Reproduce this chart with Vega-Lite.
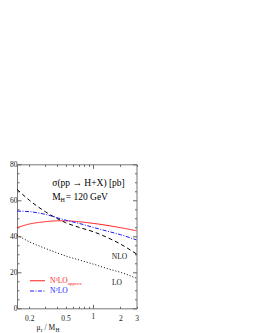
{
  "$schema": "https://vega.github.io/schema/vega-lite/v6.json",
  "width": 119.5,
  "height": 144,
  "autosize": "none",
  "padding": {"left": 17, "top": 164.3, "right": 121.5, "bottom": 24.7},
  "config": {
    "view": {"stroke": "#777", "strokeWidth": 1},
    "font": "Liberation Serif",
    "axis": {
      "domain": false,
      "grid": false,
      "tickColor": "#666",
      "tickWidth": 1,
      "labelFont": "Liberation Serif",
      "labelFontSize": 7.5,
      "labelColor": "#222",
      "labelFlush": false,
      "labelOverlap": false,
      "title": null
    },
    "text": {"font": "Liberation Serif", "baseline": "middle", "align": "left"}
  },
  "layer": [
    {
      "data": {"values": [
        {"x": 0.147, "y": 44.8, "series": "N3LO"},
        {"x": 0.2, "y": 46.8, "series": "N3LO"},
        {"x": 0.3, "y": 48.1, "series": "N3LO"},
        {"x": 0.4, "y": 48.6, "series": "N3LO"},
        {"x": 0.5, "y": 48.6, "series": "N3LO"},
        {"x": 0.7, "y": 48.1, "series": "N3LO"},
        {"x": 1, "y": 47.2, "series": "N3LO"},
        {"x": 1.5, "y": 45.9, "series": "N3LO"},
        {"x": 2, "y": 44.8, "series": "N3LO"},
        {"x": 3, "y": 43.1, "series": "N3LO"},
        {"x": 0.147, "y": 54.0, "series": "N2LO"},
        {"x": 0.2, "y": 53.7, "series": "N2LO"},
        {"x": 0.3, "y": 52.2, "series": "N2LO"},
        {"x": 0.4, "y": 50.4, "series": "N2LO"},
        {"x": 0.5, "y": 49.0, "series": "N2LO"},
        {"x": 0.7, "y": 47.2, "series": "N2LO"},
        {"x": 1, "y": 45.0, "series": "N2LO"},
        {"x": 1.5, "y": 42.6, "series": "N2LO"},
        {"x": 2, "y": 40.9, "series": "N2LO"},
        {"x": 3, "y": 38.0, "series": "N2LO"},
        {"x": 0.147, "y": 66.1, "series": "NLO"},
        {"x": 0.2, "y": 60.1, "series": "NLO"},
        {"x": 0.3, "y": 53.7, "series": "NLO"},
        {"x": 0.4, "y": 50.0, "series": "NLO"},
        {"x": 0.5, "y": 47.6, "series": "NLO"},
        {"x": 0.7, "y": 45.0, "series": "NLO"},
        {"x": 1, "y": 42.6, "series": "NLO"},
        {"x": 1.5, "y": 38.9, "series": "NLO"},
        {"x": 2, "y": 35.7, "series": "NLO"},
        {"x": 3, "y": 30.2, "series": "NLO"},
        {"x": 0.147, "y": 40.7, "series": "LO"},
        {"x": 0.2, "y": 37.0, "series": "LO"},
        {"x": 0.3, "y": 33.3, "series": "LO"},
        {"x": 0.4, "y": 30.9, "series": "LO"},
        {"x": 0.5, "y": 29.1, "series": "LO"},
        {"x": 0.7, "y": 26.9, "series": "LO"},
        {"x": 1, "y": 24.6, "series": "LO"},
        {"x": 1.5, "y": 21.8, "series": "LO"},
        {"x": 2, "y": 20.0, "series": "LO"},
        {"x": 3, "y": 16.7, "series": "LO"}
      ]},
      "mark": {"type": "line", "strokeWidth": 1, "interpolate": "monotone"},
      "encoding": {
        "x": {"field": "x", "type": "quantitative",
          "scale": {"type": "log", "domain": [0.147, 3], "nice": false},
          "axis": {"orient": "bottom", "values": [0.2,0.3,0.4,0.5,0.6,0.7,0.8,0.9,1,2,3], "format": "~g",
            "labelExpr": "indexof([0.2,0.5,1,2,3], datum.value) >= 0 ? datum.label : ''",
            "tickSize": {"condition": {"test": "datum.value == 1", "value": -4}, "value": -2},
            "labelPadding": 8}},
        "y": {"field": "y", "type": "quantitative",
          "scale": {"domain": [0, 80], "nice": false, "zero": true},
          "axis": {"orient": "left", "values": [0,5,10,15,20,25,30,35,40,45,50,55,60,65,70,75,80],
            "labelExpr": "datum.value % 20 === 0 ? datum.label : ''",
            "tickSize": {"condition": {"test": "datum.value % 20 === 0", "value": -4}, "value": -2},
            "labelPadding": 4}},
        "color": {"field": "series", "type": "nominal", "legend": null,
          "scale": {"domain": ["N3LO", "N2LO", "NLO", "LO"], "range": ["#ff1a1a", "#1a1aff", "#000000", "#000000"]}},
        "strokeDash": {"field": "series", "type": "nominal", "legend": null,
          "scale": {"domain": ["N3LO", "N2LO", "NLO", "LO"], "range": [[1, 0], [4, 1.5, 1, 1.5], [4, 3], [1, 2]]}}
      }
    },
    {
      "data": {"values": [
        {"x": 0.204, "y": 15.3, "series": "N3LO"},
        {"x": 0.298, "y": 15.3, "series": "N3LO"},
        {"x": 0.204, "y": 9.6, "series": "N2LO"},
        {"x": 0.298, "y": 9.6, "series": "N2LO"}
      ]},
      "mark": {"type": "line", "strokeWidth": 1},
      "encoding": {
        "x": {"field": "x", "type": "quantitative",
          "axis": {"orient": "top", "values": [0.2,0.3,0.4,0.5,0.6,0.7,0.8,0.9,1,2,3], "labels": false,
            "tickSize": {"condition": {"test": "datum.value == 1", "value": -4}, "value": -2}}},
        "y": {"field": "y", "type": "quantitative",
          "axis": {"orient": "right", "values": [0,5,10,15,20,25,30,35,40,45,50,55,60,65,70,75,80], "labels": false,
            "tickSize": {"condition": {"test": "datum.value % 20 === 0", "value": -4}, "value": -2}}},
        "color": {"field": "series", "type": "nominal", "legend": null},
        "strokeDash": {"field": "series", "type": "nominal", "legend": null}
      }
    },
    {
      "data": {"values": [
        {"x": 0.358, "y": 69.4, "t": "σ(pp → H+X) [pb]"},
        {"x": 0.358, "y": 61.7, "t": "M"},
        {"x": 0.502, "y": 61.7, "t": "= 120 GeV"}
      ]},
      "mark": {"type": "text", "fontSize": 9.5, "color": "#000"},
      "encoding": {
        "x": {"field": "x", "type": "quantitative", "axis": null},
        "y": {"field": "y", "type": "quantitative", "axis": null},
        "text": {"field": "t"}
      }
    },
    {
      "data": {"values": [
        {"x": 0.44, "y": 60.0, "t": "H"}
      ]},
      "mark": {"type": "text", "fontSize": 6, "color": "#000"},
      "encoding": {
        "x": {"field": "x", "type": "quantitative", "axis": null},
        "y": {"field": "y", "type": "quantitative", "axis": null},
        "text": {"field": "t"}
      }
    },
    {
      "data": {"values": [
        {"x": 1.95, "y": 28.7, "t": "NLO"},
        {"x": 1.83, "y": 13.9, "t": "LO"}
      ]},
      "mark": {"type": "text", "fontSize": 7.5, "color": "#111", "align": "center"},
      "encoding": {
        "x": {"field": "x", "type": "quantitative", "axis": null},
        "y": {"field": "y", "type": "quantitative", "axis": null},
        "text": {"field": "t"}
      }
    },
    {
      "data": {"values": [
        {"x": 0.240, "y": -10.9, "t": "μ"},
        {"x": 0.294, "y": -10.9, "t": "/ M"}
      ]},
      "mark": {"type": "text", "fontSize": 7.5, "color": "#111"},
      "encoding": {
        "x": {"field": "x", "type": "quantitative", "axis": null},
        "y": {"field": "y", "type": "quantitative", "axis": null},
        "text": {"field": "t"}
      }
    },
    {
      "data": {"values": [
        {"x": 0.267, "y": -12.0, "t": "r"},
        {"x": 0.388, "y": -12.0, "t": "H"}
      ]},
      "mark": {"type": "text", "fontSize": 5.5, "color": "#111"},
      "encoding": {
        "x": {"field": "x", "type": "quantitative", "axis": null},
        "y": {"field": "y", "type": "quantitative", "axis": null},
        "text": {"field": "t"}
      }
    },
    {
      "data": {"values": [
        {"x": 0.338, "y": 15.3, "t": "N³LO", "series": "N3LO"},
        {"x": 0.338, "y": 9.6, "t": "N²LO", "series": "N2LO"}
      ]},
      "mark": {"type": "text", "fontSize": 7.5},
      "encoding": {
        "x": {"field": "x", "type": "quantitative", "axis": null},
        "y": {"field": "y", "type": "quantitative", "axis": null},
        "text": {"field": "t"},
        "color": {"field": "series", "type": "nominal", "legend": null}
      }
    },
    {
      "data": {"values": [
        {"x": 0.53, "y": 14.0, "t": "approx", "series": "N3LO"}
      ]},
      "mark": {"type": "text", "fontSize": 5},
      "encoding": {
        "x": {"field": "x", "type": "quantitative", "axis": null},
        "y": {"field": "y", "type": "quantitative", "axis": null},
        "text": {"field": "t"},
        "color": {"field": "series", "type": "nominal", "legend": null}
      }
    }
  ],
  "resolve": {"axis": {"x": "independent", "y": "independent"}}
}
